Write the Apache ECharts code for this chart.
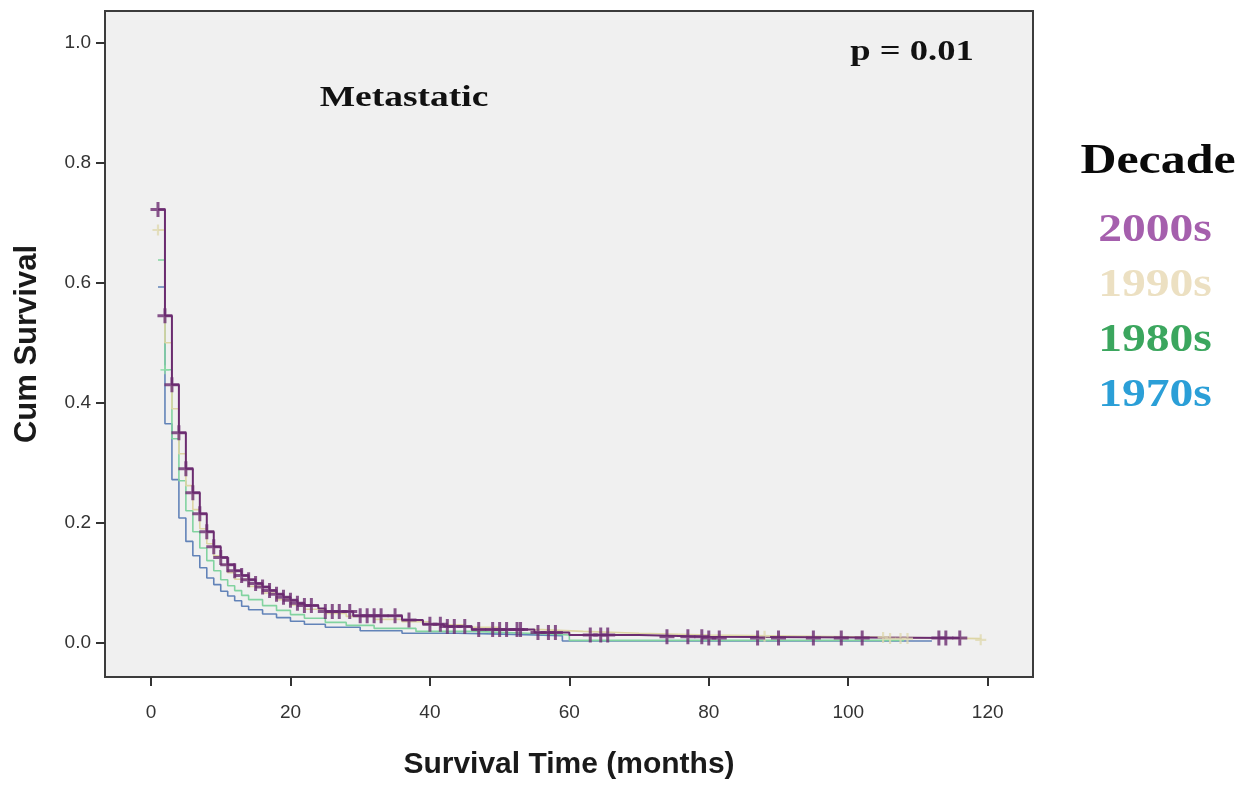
<!DOCTYPE html>
<html>
<head>
<meta charset="utf-8">
<script src="https://cdn.jsdelivr.net/npm/echarts@6/dist/echarts.min.js"></script>
<style>
  html, body { margin: 0; padding: 0; background: #ffffff; }
  #chart { width: 1252px; height: 785px; }
</style>
</head>
<body>
<div id="chart"></div>
<script>
  // Kaplan-Meier step points, time in months / cumulative survival
  var t2000s = [1, 2, 3, 4, 5, 6, 7, 8, 9, 10, 11, 12, 13, 14, 15, 16, 17, 18, 19, 20, 21, 22, 24, 25, 29, 36, 39, 42, 46, 55, 60, 70, 80, 116];
  var s2000s = [0.722, 0.545, 0.43, 0.35, 0.29, 0.25, 0.215, 0.185, 0.16, 0.142, 0.13, 0.12, 0.112, 0.105, 0.099, 0.093, 0.087, 0.081, 0.076, 0.071, 0.066, 0.062, 0.057, 0.052, 0.045, 0.038, 0.031, 0.027, 0.022, 0.017, 0.013, 0.01, 0.008, 0.008];

  var t1990s = [1, 2, 3, 4, 5, 6, 7, 8, 9, 10, 11, 12, 14, 16, 18, 20, 22, 25, 28, 32, 36, 40, 45, 50, 56, 62, 70, 80, 95, 106, 119];
  var s1990s = [0.688, 0.5, 0.39, 0.315, 0.262, 0.222, 0.19, 0.165, 0.145, 0.13, 0.117, 0.106, 0.094, 0.083, 0.072, 0.063, 0.056, 0.049, 0.044, 0.039, 0.035, 0.03, 0.026, 0.022, 0.019, 0.016, 0.013, 0.011, 0.009, 0.007, 0.005];

  var t1980s = [1, 2, 3, 4, 5, 6, 7, 8, 9, 10, 11, 12, 13, 14, 16, 18, 20, 22, 25, 28, 32, 38, 46, 54, 60, 108];
  var s1980s = [0.638, 0.455, 0.34, 0.27, 0.22, 0.185, 0.158, 0.137, 0.12, 0.105, 0.095, 0.087, 0.079, 0.072, 0.062, 0.054, 0.047, 0.041, 0.034, 0.029, 0.024, 0.019, 0.016, 0.013, 0.004, 0.004];

  var t1970s = [1, 2, 3, 4, 5, 6, 7, 8, 9, 10, 11, 12, 13, 14, 16, 18, 20, 22, 25, 30, 36, 44, 52, 59, 112];
  var s1970s = [0.593, 0.365, 0.272, 0.208, 0.169, 0.145, 0.125, 0.108, 0.097, 0.086, 0.078, 0.07, 0.061, 0.055, 0.048, 0.042, 0.036, 0.031, 0.026, 0.02, 0.016, 0.014, 0.012, 0.003, 0.003];

  // censored times (drawn as +)
  var c2000s = [1, 2, 3, 4, 5, 6, 7, 8, 9, 10, 11, 12, 13, 14, 15, 16, 17, 18, 19, 20, 21, 22, 23, 25, 26, 27, 28.5, 30, 31, 32, 33, 35, 37, 40, 41.5, 42.5, 43.5, 45, 47, 49, 50, 51, 52.5, 53, 55.5, 57, 58, 63, 64.5, 65.5, 74, 77, 79, 80, 81.5, 87, 90, 95, 99, 102, 113, 114, 116];
  var c1990s = [1, 88, 105, 106, 107.5, 108.5, 119];
  var c1980s = [2];

  var xTicks = [0, 20, 40, 60, 80, 100, 120];
  var yTicks = [0, 0.2, 0.4, 0.6, 0.8, 1.0];

  var decades = ['2000s', '1990s', '1980s', '1970s'];
  var lineColors = ['#6b2c70', '#ddd5a4', '#82d3a0', '#6283b8'];
  var labelColors = ['#a55fad', '#ece0c2', '#3ba65e', '#2b9fd7'];

  var plus = 'path://M4,0 L6,0 L6,4 L10,4 L10,6 L6,6 L6,10 L4,10 L4,6 L0,6 L0,4 L4,4 Z';

  function pairs(ts, ss) {
    return ts.map(function (t, i) { return [t, ss[i]]; });
  }
  function kmAt(ts, ss, t) {
    var v = ss[0];
    for (var i = 0; i < ts.length; i++) {
      if (ts[i] <= t) v = ss[i];
    }
    return v;
  }
  function censor(cs, ts, ss) {
    return cs.map(function (t) { return [t, kmAt(ts, ss, t)]; });
  }

  var chart = echarts.init(document.getElementById('chart'));

  var series = [
    { name: '1970s', type: 'line', step: 'end', showSymbol: false, data: pairs(t1970s, s1970s),
      lineStyle: { color: lineColors[3], width: 1.6 }, z: 2 },
    { name: '1980s', type: 'line', step: 'end', showSymbol: false, data: pairs(t1980s, s1980s),
      lineStyle: { color: lineColors[2], width: 1.6 }, z: 3 },
    { name: '1990s', type: 'line', step: 'end', showSymbol: false, data: pairs(t1990s, s1990s),
      lineStyle: { color: lineColors[1], width: 1.6 }, z: 4 },
    { name: '2000s', type: 'line', step: 'end', showSymbol: false, data: pairs(t2000s, s2000s),
      lineStyle: { color: lineColors[0], width: 2 }, z: 5 },
    { type: 'scatter', symbol: plus, symbolSize: 9, data: censor(c1980s, t1980s, s1980s),
      itemStyle: { color: '#8fdca8' }, z: 6 },
    { type: 'scatter', symbol: plus, symbolSize: 11, data: censor(c1990s, t1990s, s1990s),
      itemStyle: { color: '#e0dab0' }, z: 6 },
    { type: 'scatter', symbol: plus, symbolSize: 15, data: censor(c2000s, t2000s, s2000s),
      itemStyle: { color: lineColors[0] }, z: 7 }
  ];

  var graphics = [
    { type: 'text', x: 404, y: 98, scaleX: 1.25,
      style: { text: 'Metastatic', font: 'bold 30px "Liberation Serif"', fill: '#111', align: 'center', verticalAlign: 'middle' } },
    { type: 'text', x: 912, y: 52, scaleX: 1.22,
      style: { text: 'p = 0.01', font: 'bold 30px "Liberation Serif"', fill: '#111', align: 'center', verticalAlign: 'middle' } },
    { type: 'text', x: 1158, y: 162, scaleX: 1.16,
      style: { text: 'Decade', font: 'bold 43px "Liberation Serif"', fill: '#0a0a0a', align: 'center', verticalAlign: 'middle' } }
  ];
  decades.forEach(function (d, i) {
    graphics.push({ type: 'text', x: 1155, y: 231 + i * 55, scaleX: 1.22,
      style: { text: d, font: 'bold 39px "Liberation Serif"', fill: labelColors[i], align: 'center', verticalAlign: 'middle' } });
  });

  chart.setOption({
    animation: false,
    backgroundColor: '#ffffff',
    grid: {
      left: 105, top: 11, right: 219, bottom: 108,
      containLabel: false, outerBoundsMode: 'none',
      show: true, backgroundColor: '#f0f0f0', borderColor: '#3c3c3c', borderWidth: 2
    },
    xAxis: {
      type: 'value', min: -6.6, max: 126.5,
      name: 'Survival Time (months)', nameLocation: 'middle', nameGap: 73,
      nameTextStyle: { fontFamily: 'Liberation Sans', fontWeight: 'bold', fontSize: 30, color: '#1a1a1a' },
      axisLine: { show: false, onZero: false },
      axisTick: { show: true, length: 9, customValues: xTicks, lineStyle: { color: '#333', width: 2 } },
      axisLabel: { customValues: xTicks, margin: 26, fontFamily: 'Liberation Sans', fontSize: 19, color: '#333' },
      splitLine: { show: false }
    },
    yAxis: {
      type: 'value', min: -0.057, max: 1.053,
      name: 'Cum Survival', nameLocation: 'middle', nameGap: 62,
      nameTextStyle: { fontFamily: 'Liberation Sans', fontWeight: 'bold', fontSize: 31, color: '#1a1a1a' },
      axisLine: { show: false, onZero: false },
      axisTick: { show: true, length: 9, customValues: yTicks, lineStyle: { color: '#333', width: 2 } },
      axisLabel: { customValues: yTicks, margin: 14, fontFamily: 'Liberation Sans', fontSize: 19, color: '#333',
        formatter: function (v) { return v.toFixed(1); } },
      splitLine: { show: false }
    },
    graphic: graphics,
    series: series
  });
</script>
</body>
</html>
